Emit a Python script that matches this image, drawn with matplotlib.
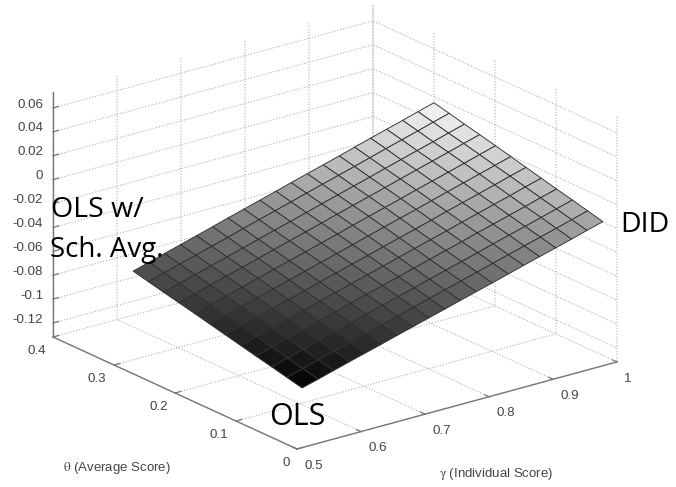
import matplotlib
matplotlib.use("Agg")
import matplotlib.pyplot as plt
import numpy as np
from mpl_toolkits.mplot3d import proj3d

gamma = [.508,.533,.557,.582,.607,.632,.656,.681,.706,.731,.755,.780,.805,.830,.854,.879,.904,.929,.953,.978]
theta = [0,.025,.050,.076,.101,.126,.151,.176,.202,.227,.252,.277]
effect = [
 [-.0818,-.0781,-.0744,-.0706,-.0669,-.0632,-.0595,-.0558,-.0520,-.0483,-.0446,-.0409,-.0372,-.0334,-.0297,-.0260,-.0223,-.0186,-.0148,-.0111],
 [-.0788,-.0751,-.0713,-.0676,-.0639,-.0602,-.0564,-.0527,-.0490,-.0452,-.0415,-.0378,-.0340,-.0303,-.0266,-.0229,-.0191,-.0154,-.0117,-.0079],
 [-.0758,-.0721,-.0683,-.0646,-.0608,-.0571,-.0534,-.0496,-.0459,-.0421,-.0384,-.0347,-.0309,-.0272,-.0234,-.0197,-.0160,-.0122,-.0085,-.0047],
 [-.0728,-.0691,-.0653,-.0616,-.0578,-.0541,-.0503,-.0466,-.0428,-.0391,-.0353,-.0316,-.0278,-.0241,-.0203,-.0166,-.0128,-.0091,-.0053,-.0016],
 [-.0698,-.0660,-.0623,-.0585,-.0548,-.0510,-.0472,-.0435,-.0397,-.0360,-.0322,-.0284,-.0247,-.0209,-.0172,-.0134,-.0096,-.0059,-.0021,.0016],
 [-.0668,-.0630,-.0593,-.0555,-.0517,-.0480,-.0442,-.0404,-.0366,-.0329,-.0291,-.0253,-.0216,-.0178,-.0140,-.0103,-.0065,-.0027,.0011,.0048],
 [-.0638,-.0600,-.0562,-.0525,-.0487,-.0449,-.0411,-.0373,-.0336,-.0298,-.0260,-.0222,-.0184,-.0147,-.0109,-.0071,-.0033,.0005,.0042,.0080],
 [-.0608,-.0570,-.0532,-.0494,-.0456,-.0418,-.0381,-.0343,-.0305,-.0267,-.0229,-.0191,-.0153,-.0115,-.0077,-.0040,-.0002,.0036,.0074,.0112],
 [-.0578,-.0540,-.0502,-.0464,-.0426,-.0388,-.0350,-.0312,-.0274,-.0236,-.0198,-.0160,-.0122,-.0084,-.0046,-.0008,.0030,.0068,.0106,.0144],
 [-.0549,-.0511,-.0473,-.0435,-.0397,-.0359,-.0321,-.0283,-.0245,-.0207,-.0169,-.0131,-.0093,-.0055,-.0017,.0021,.0059,.0097,.0135,.0173],
 [-.0519,-.0481,-.0443,-.0405,-.0367,-.0329,-.0290,-.0252,-.0214,-.0176,-.0138,-.0100,-.0062,-.0024,.0014,.0053,.0091,.0129,.0167,.0205],
 [-.0489,-.0451,-.0413,-.0375,-.0337,-.0298,-.0260,-.0222,-.0184,-.0146,-.0108,-.0070,-.0032,.0006,.0044,.0083,.0121,.0159,.0197,.0235],
]
gamma_ticks = [.5,.6,.7,.8,.9,1]
gamma_labels = ['0.5','0.6','0.7','0.8','0.9','1']
theta_ticks = [0,.1,.2,.3,.4]
theta_labels = ['0','0.1','0.2','0.3','0.4']
z_ticks = [-.12,-.1,-.08,-.06,-.04,-.02,0,.02,.04,.06]
z_labels = ['-0.12','-0.1','-0.08','-0.06','-0.04','-0.02','0','0.02','0.04','0.06']

W, H = 676, 487
plt.rcParams['font.family'] = ['Liberation Sans', 'DejaVu Sans']
plt.rcParams['mathtext.fontset'] = 'stix'
fig = plt.figure(figsize=(W/100, H/100), dpi=100, facecolor='white')
ax = fig.add_subplot(projection='3d', proj_type='ortho', facecolor='white')
ax.view_init(elev=20.7, azim=-127.6)
ax.set_box_aspect((404, 400, 262))
ax.set_xlim(.5, 1)
ax.set_ylim(0, .4)
ax.set_zlim(-.1317, .0734)

G, T = np.meshgrid(gamma, theta)
Z = np.array(effect)
ax.plot_surface(G, T, Z, rstride=1, cstride=1, cmap='gray', vmin=-.082, vmax=.027,
                shade=False, edgecolor='#303030', linewidth=.65, antialiased=True)

ax.set_xticks(gamma_ticks); ax.set_xticklabels(gamma_labels, ha='left')
ax.set_yticks(theta_ticks); ax.set_yticklabels(theta_labels, ha='right')
ax.set_zticks(z_ticks); ax.set_zticklabels(z_labels, ha='right', va='baseline')
for axis in (ax.xaxis, ax.yaxis, ax.zaxis):
    axis.set_pane_color((1, 1, 1, 0))
    axis.pane.set_edgecolor('none')
    axis.line.set_color('#777777')
    axis.line.set_linewidth(1.0)
    axis._axinfo['grid'].update(color='#b0b0b0', linestyle=(0, (1, 1.6)), linewidth=.8)
    axis._axinfo['tick'].update(inward_factor=0.0, outward_factor=0.22, linewidth={True: .9, False: .5})
    axis._axinfo['tick']['color'] = '#777777'
ax.tick_params(axis='both', labelsize=9.6, labelcolor='#444444', color='#777777')
ax.tick_params(axis='x', pad=-1.2)
ax.tick_params(axis='y', pad=-2.7)
ax.tick_params(axis='z', pad=-4)

# place the square axes so that the box corners land where the reference has them
M = ax.get_proj()
def view(x, y, z):
    a, b, _ = proj3d.proj_transform(x, y, z, M)
    return float(a), float(b)
Ax, _ = view(.5, .4, -.1317)
Cx, _ = view(1, 0, -.1317)
_, By = view(.5, 0, -.1317)
x0, x1 = ax.viewLim.intervalx
y0, y1 = ax.viewLim.intervaly
S = (617 - 53) * (x1 - x0) / (Cx - Ax)
left = 53 - (Ax - x0) / (x1 - x0) * S
bottom = (H - 449) - (By - y0) / (y1 - y0) * S
ax.set_position([left / W, bottom / H, S / W, S / H])

def px(x, y):
    return x / W, 1 - y / H
fig.text(*px(117, 468), r'$\mathrm{\theta}$ (Average Score)', ha='center', va='center', fontsize=9.5, color='#444444')
fig.text(*px(496, 474), r'$\mathrm{\gamma}$ (Individual Score)', ha='center', va='center', fontsize=9.5, color='#444444')
big = ['Open Sans', 'DejaVu Sans']
fig.text(*px(51, 217), 'OLS w/', family=big, fontsize=20.5, color='black', va='baseline')
fig.text(*px(50, 257), 'Sch. Avg.', family=big, fontsize=20, color='black', va='baseline')
fig.text(*px(620, 232), 'DID', family=big, fontsize=20.5, color='black', va='baseline')
fig.text(*px(269, 425), 'OLS', family=big, fontsize=22, color='black', va='baseline')

fig.savefig('out.png', dpi=100)
